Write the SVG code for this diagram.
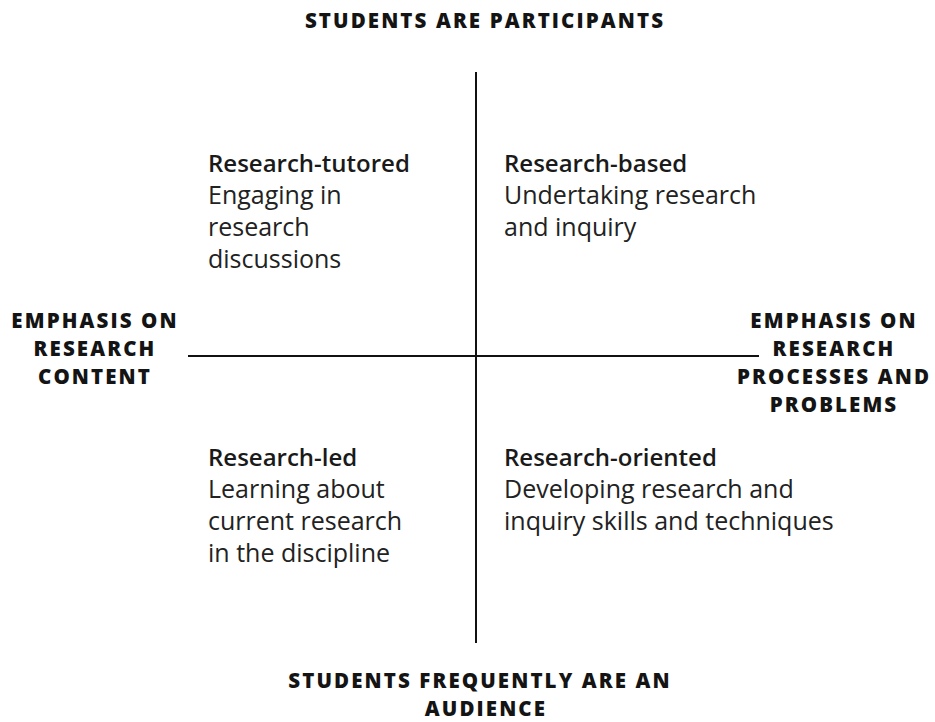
<svg xmlns="http://www.w3.org/2000/svg" width="935" height="722" viewBox="0 0 935 722">
<style>
.cap{font-family:"Open Sans","Liberation Sans",sans-serif;font-weight:800;font-size:20.5px;letter-spacing:2.1px;fill:#141414;text-anchor:middle}
.hd{font-family:"Open Sans","Liberation Sans",sans-serif;font-weight:600;font-size:24px;fill:#1a1a1a}
.bd{font-family:"Open Sans","Liberation Sans",sans-serif;font-weight:400;font-size:25px;fill:#222}
.ax{stroke:#111;stroke-width:2;fill:none}
</style>
<rect width="935" height="722" fill="#fff"/>
<g id="connectors">
<line class="ax" x1="476" y1="72" x2="476" y2="643"/>
<line class="ax" x1="188" y1="356" x2="759" y2="356"/>
</g>
<g id="label-top"><text class="cap" x="485" y="28">STUDENTS ARE PARTICIPANTS</text></g>
<g id="label-left">
<text class="cap" x="95" y="328">EMPHASIS ON</text>
<text class="cap" x="95" y="356">RESEARCH</text>
<text class="cap" x="95" y="384">CONTENT</text>
</g>
<g id="label-right">
<text class="cap" x="834" y="328">EMPHASIS ON</text>
<text class="cap" x="834" y="356">RESEARCH</text>
<text class="cap" x="834" y="384">PROCESSES AND</text>
<text class="cap" x="834" y="412">PROBLEMS</text>
</g>
<g id="label-bottom">
<text class="cap" x="480" y="688">STUDENTS FREQUENTLY ARE AN</text>
<text class="cap" x="486" y="715.5">AUDIENCE</text>
</g>
<g id="q-tutored">
<text class="hd" x="208" y="172">Research-tutored</text>
<text class="bd" x="208" y="204">Engaging in</text>
<text class="bd" x="208" y="236">research</text>
<text class="bd" x="208" y="268">discussions</text>
</g>
<g id="q-based">
<text class="hd" x="504" y="172">Research-based</text>
<text class="bd" x="504" y="204">Undertaking research</text>
<text class="bd" x="504" y="236">and inquiry</text>
</g>
<g id="q-led">
<text class="hd" x="208" y="466">Research-led</text>
<text class="bd" x="208" y="498">Learning about</text>
<text class="bd" x="208" y="530">current research</text>
<text class="bd" x="208" y="562">in the discipline</text>
</g>
<g id="q-oriented">
<text class="hd" x="504" y="466">Research-oriented</text>
<text class="bd" x="504" y="498">Developing research and</text>
<text class="bd" x="504" y="530">inquiry skills and techniques</text>
</g>
</svg>
